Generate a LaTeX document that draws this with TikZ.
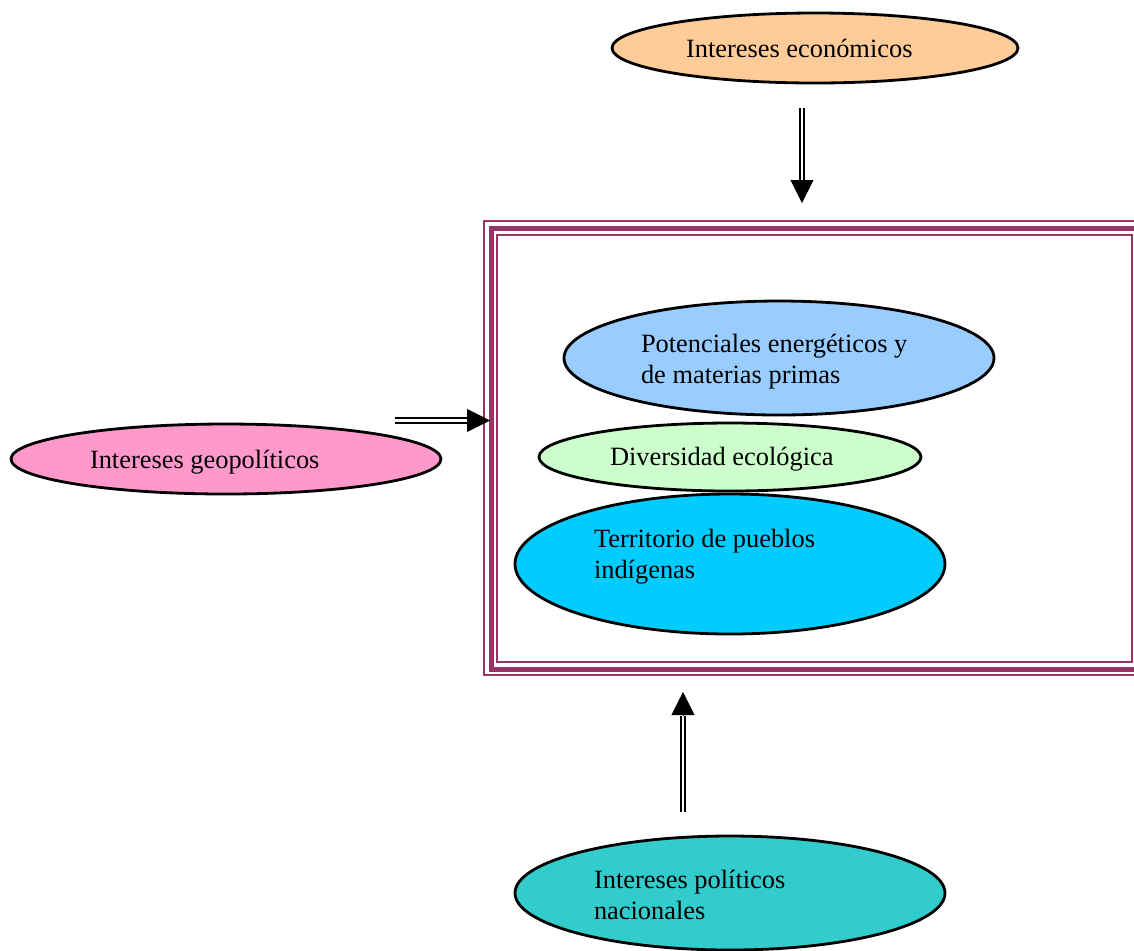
\documentclass[tikz,border=0pt]{standalone}
\usepackage{fontspec}
\setmainfont{Liberation Serif}
\usetikzlibrary{arrows.meta,shapes.geometric}

\definecolor{peach}{HTML}{FFCC99}
\definecolor{skyblue}{HTML}{99CCFF}
\definecolor{palegreen}{HTML}{CCFFCC}
\definecolor{cyanblue}{HTML}{00CCFF}
\definecolor{rosepink}{HTML}{FF99CC}
\definecolor{seateal}{HTML}{33CCCC}
\definecolor{plum}{HTML}{993366}

% text block of an oval: width, space above, space below, lines
\newcommand{\ovaltext}[4]{\parbox{#1}{\raggedright\vspace*{#2}#4\par\vspace*{#3}}}

\tikzset{
  blob/.style={ellipse, draw, line width=1.4pt, inner sep=0pt,
    font=\fontsize{13.2}{15.5}\selectfont},
  shaft/.style={double, double distance=1.2pt, line width=1pt},
  head/.style={-{Triangle[width=11.5pt,length=11.5pt]}, line width=0.4pt},
  frame/.style={draw=plum}
}

\begin{document}
\begin{tikzpicture}[x=0.5pt,y=-0.5pt]
	\useasboundingbox (0,0) rectangle (1134,950);
	\clip (0,0) rectangle (1134,950);
	
	%%%%% FRAME %%%%%
	\draw[frame, line width=1pt] (484,221) rectangle (1146,675);
	\draw[frame, line width=2.5pt] (491,228) rectangle (1139,669);
	\draw[frame, line width=1.2pt] (497,235) rectangle (1132,662);
	
	%%%%% ELLIPSES %%%%%
	\node[blob, fill=peach, minimum width=203pt, minimum height=35pt] (econ) at (815,48) {\ovaltext{129pt}{0pt}{0pt}{Intereses económicos}};
	
	\node[blob, fill=skyblue, minimum width=215pt, minimum height=57pt] (poten) at (779,358) {\ovaltext{138pt}{4pt}{0pt}{Potenciales energéticos y\\de materias primas}};
	\node[blob, fill=palegreen, minimum width=191pt, minimum height=34pt] (diver) at (730,457) {\ovaltext{120pt}{2pt}{0pt}{Diversidad ecológica}};
	\node[blob, fill=cyanblue, minimum width=215pt, minimum height=70pt] (terri) at (730,564) {\ovaltext{136pt}{0pt}{7pt}{Territorio de pueblos\\indígenas}};
	
	\node[blob, fill=rosepink, minimum width=215pt, minimum height=35pt] (geo) at (226,459) {\ovaltext{136pt}{3pt}{0pt}{Intereses geopolíticos}};
	\node[blob, fill=seateal, minimum width=215pt, minimum height=57pt] (polit) at (730,893) {\ovaltext{136pt}{2pt}{0pt}{Intereses políticos\\nacionales}};
	
	%%%%% ARROWS %%%%%
	\coordinate (econ out) at (802,108);
	\coordinate (econ end) at (802,180);
	\coordinate (econ tip) at (802,203);
	\draw[shaft] (econ out) -- (econ end);
	\draw[head] (econ end) -- (econ tip);
	
	\coordinate (geo out) at (395,420.5);
	\coordinate (geo end) at (467,420.5);
	\coordinate (geo tip) at (490,420.5);
	\draw[shaft] (geo out) -- (geo end);
	\draw[head] (geo end) -- (geo tip);
	
	\coordinate (polit out) at (683,812);
	\coordinate (polit end) at (683,716);
	\coordinate (polit tip) at (683,692);
	\draw[shaft] (polit out) -- (polit end);
	\draw[head] (polit end) -- (polit tip);
	
\end{tikzpicture}
\end{document}
